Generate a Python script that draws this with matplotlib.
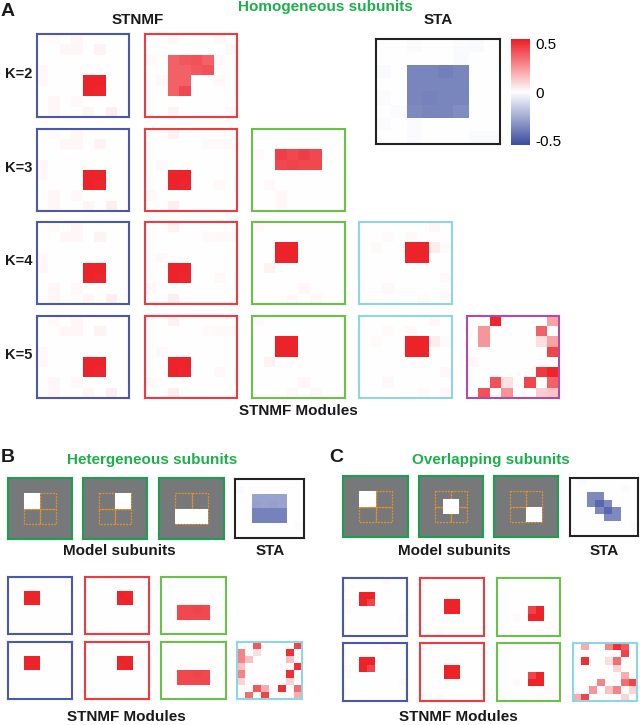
import numpy as np
import matplotlib.pyplot as plt
from matplotlib.colors import LinearSegmentedColormap, ListedColormap
from matplotlib.patches import Rectangle

# ---- data: (row, col, value) entries on an 8x8 grid ----
# panel A, homogeneous subunits
a_blue = [(4,4,.53),(4,5,.53),(5,4,.53),(5,5,.52),
          (0,1,.01),(0,3,.02),(1,2,.02),(1,3,.02),(1,5,.03),(3,0,.015),(4,0,.015),
          (6,1,.02),(7,1,.02),(6,3,.015),(7,4,.025),(7,6,.035)]
a_red2 = [(2,2,.38),(2,3,.40),(2,4,.42),(2,5,.38),(3,2,.38),(3,3,.38),(3,4,.40),
          (3,5,.42),(4,2,.38),(4,3,.38),(5,2,.38),(5,3,.44),
          (0,2,.015),(0,6,.015),(1,7,.015),(2,0,.01),(4,1,.015),(4,6,.015),(7,2,.03),
          (7,7,.015),(2,6,.015)]
a_red = [(4,2,.53),(4,3,.53),(5,2,.53),(5,3,.52),
         (0,2,.03),(1,5,.01),(1,6,.015),(1,7,.01),(3,1,.015),(5,6,.015),(7,2,.035),(6,0,.015)]
a_green3 = [(2,2,.46),(2,3,.44),(2,4,.46),(2,5,.44),(3,2,.44),(3,3,.45),(3,4,.44),(3,5,.44),
            (2,0,.01),(5,1,.015),(6,2,.015),(7,2,.015)]
a_green = [(2,2,.53),(2,3,.53),(3,2,.53),(3,3,.53),
           (0,0,.01),(4,1,.03),(6,4,.02),(7,3,.015),(7,5,.015)]
a_cyan = [(2,4,.53),(2,5,.53),(3,4,.53),(3,5,.53),
          (0,6,.02),(1,2,.01),(1,4,.015),(2,1,.01),(2,6,.04),(2,7,.01),(5,7,.015),
          (6,2,.015),(7,5,.01),(7,7,.015)]
a_magenta = [(0,2,.52),(1,1,.25),(2,1,.25),(0,7,.22),(1,6,.38),(2,6,.08),(2,7,.22),
             (3,7,.45),(4,0,.02),(5,6,.48),(5,7,.52),(6,2,.42),(6,3,.07),(6,5,.45),
             (6,7,.38),(7,1,.42),(7,3,.26),(7,6,.12),(7,7,.14)]
a_sta = [(2,2,-.37),(2,3,-.37),(2,4,-.39),(2,5,-.37),(3,2,-.37),(3,3,-.37),(3,4,-.37),
         (3,5,-.37),(4,2,-.37),(4,3,-.38),(4,4,-.37),(4,5,-.37),(5,2,-.36),(5,3,-.37),
         (5,4,-.37),(5,5,-.35),
         (0,2,-.01),(0,5,-.01),(0,6,-.015),(1,5,-.015),(2,0,-.015),(4,0,-.01),(5,1,-.01),
         (6,0,-.01),(6,2,-.01),(7,2,-.01),(7,6,-.015),(7,7,-.015)]

# panel B, heterogeneous subunits
b_subunits = [(2,2,2,2),(2,4,2,2),(4,2,2,4)]   # row, col, height, width
b_sta = [(2,2,-.28),(2,3,-.28),(2,4,-.28),(2,5,-.28),(3,2,-.29),(3,3,-.28),(3,4,-.29),(3,5,-.28),
         (4,2,-.38),(4,3,-.38),(4,4,-.38),(4,5,-.38),(5,2,-.38),(5,3,-.38),(5,4,-.38),(5,5,-.38),
         (1,0,-.01),(6,7,-.01)]
b_blue = [(2,2,.53),(2,3,.53),(3,2,.53),(3,3,.53),(0,7,.01)]
b_red = [(2,4,.53),(2,5,.52),(3,4,.52),(3,5,.53)]
b_green = [(4,2,.44),(4,3,.44),(4,4,.45),(4,5,.44),(5,2,.44),(5,3,.44),(5,4,.44),(5,5,.44)]
b_cyan = [(0,2,.40),(1,2,.08),(1,0,.30),(2,0,.30),(2,1,.15),(0,7,.45),(1,6,.50),(2,6,.15),
          (3,7,.50),(3,0,.15),(4,0,.30),(5,0,.10),(4,6,.50),(5,6,.10),(6,2,.40),(6,3,.20),
          (6,5,.50),(6,7,.35),(7,1,.35),(7,3,.45),(7,7,.20)]

# panel C, overlapping subunits
c_subunits = [(2,2,2,2),(3,3,2,2),(4,4,2,2)]
c_sta = [(2,2,-.36),(2,3,-.36),(3,2,-.36),(3,3,-.46),(3,4,-.36),(4,3,-.36),(4,4,-.46),
         (4,5,-.36),(5,4,-.36),(5,5,-.36),(0,1,-.01),(1,6,-.01),(6,7,-.01)]
c_blue = [(2,2,.53),(2,3,.53),(3,2,.53),(3,3,.45),(0,5,.015),(3,0,.015),(4,0,.01),(5,7,.01)]
c_red = [(3,3,.53),(3,4,.53),(4,3,.53),(4,4,.53),(7,2,.01)]
c_green = [(4,4,.45),(4,5,.53),(5,4,.53),(5,5,.53),(5,2,.01),(6,6,.01),(7,5,.01)]
c_cyan = [(0,1,.20),(0,4,.30),(0,5,.50),(0,6,.40),(1,6,.45),(2,1,.50),(2,4,.08),(2,5,.35),
          (3,5,.10),(4,6,.20),(5,3,.30),(5,6,.35),(5,7,.45),(6,2,.25),(6,4,.15),(6,5,.30),
          (6,7,.10),(7,0,.20),(7,1,.45),(7,6,.10)]

cbar_ticks = [-0.5, 0, 0.5]
cbar_labels = ['-0.5', '0', '0.5']

# ---- styles ----
W, H = 640, 725
cmap = LinearSegmentedColormap.from_list('bwr2', ['#3A4C9E', '#FFFFFF', '#ED1C24'])
VMAX = 0.55
blue_c, red_c, green_c, cyan_c, mag_c = '#4E58A8', '#EE3B43', '#6CC04A', '#8ED6E0', '#B24AA8'
title_green = '#1DAF4B'

fig = plt.figure(figsize=(W/100, H/100), dpi=100)


def grid(entries):
    m = np.zeros((8, 8))
    for r, c, v in entries:
        m[r, c] = v
    return m


def box_ax(x0, y0, x1, y1):
    # axes placed by pixel box (top-left origin)
    ax = fig.add_axes([x0/W, 1 - y1/H, (x1-x0)/W, (y1-y0)/H])
    ax.set_xticks([])
    ax.set_yticks([])
    return ax


def module(box, entries, color, lw=1.5):
    ax = box_ax(*box)
    ax.imshow(grid(entries), cmap=cmap, vmin=-VMAX, vmax=VMAX, aspect='auto',
              interpolation='nearest')
    for s in ax.spines.values():
        s.set_color(color)
        s.set_linewidth(lw)
    return ax


def model_subunit(box, subunits, k):
    ax = box_ax(*box)
    ax.imshow(np.zeros((8, 8)), cmap=ListedColormap(['#777879']), aspect='auto')
    # dashed outline of the 2x2 subunit layout
    for r in (2, 4):
        for c in (2, 4):
            ax.add_patch(Rectangle((c-0.5, r-0.5), 2, 2, fill=False, ec='#E8902A',
                                   lw=0.9, ls=(0, (1.5, 1)), zorder=2))
    r, c, h, w = subunits[k]
    ax.add_patch(Rectangle((c-0.5, r-0.5), w, h, fc='white', ec='none', zorder=3))
    for s in ax.spines.values():
        s.set_color('#1AA050')
        s.set_linewidth(1.5)


def txt(x, y, s, size=11, color='#1a1a1a', weight='bold', ha='center'):
    fig.text(x/W, 1 - y/H, s, fontsize=size, color=color, fontweight=weight,
             ha=ha, va='center', family='Liberation Sans')


# ---- panel A ----
cols_x = [(37,129),(145,237),(252,345),(359,452),(467,559)]
rows_y = [(34,117),(129,211),(222,304),(316,398)]
rows_mods = [
    [(a_blue, blue_c), (a_red2, red_c)],
    [(a_blue, blue_c), (a_red, red_c), (a_green3, green_c)],
    [(a_blue, blue_c), (a_red, red_c), (a_green, green_c), (a_cyan, cyan_c)],
    [(a_blue, blue_c), (a_red, red_c), (a_green, green_c), (a_cyan, cyan_c), (a_magenta, mag_c)],
]
for i, mods in enumerate(rows_mods):
    y0, y1 = rows_y[i]
    for j, (ent, col) in enumerate(mods):
        x0, x1 = cols_x[j]
        module((x0, y0, x1, y1), ent, col)
    txt(19, (y0+y1)/2 - 2, 'K=%d' % (i+2), size=10.5)

module((376, 39, 500, 144), a_sta, '#222222')
cax = box_ax(511, 39, 530, 145)
cb = fig.colorbar(plt.cm.ScalarMappable(cmap=cmap, norm=plt.Normalize(-VMAX, VMAX)), cax=cax)
cb.outline.set_visible(False)
cb.set_ticks(cbar_ticks)
cb.set_ticklabels(cbar_labels)
cax.tick_params(length=0, labelsize=11, pad=4)
for t in cax.get_yticklabels():
    t.set_family('Liberation Sans')

txt(8, 11, 'A', size=14)
txt(138, 20, 'STNMF')
txt(438, 20, 'STA')
txt(325, 7, 'Homogeneous subunits', color=title_green)
txt(298, 411, 'STNMF Modules')

# ---- panel B ----
b_model = [(8,478,72,539),(83,478,147,539),(159,478,224,539)]
for k, box in enumerate(b_model):
    model_subunit(box, b_subunits, k)
module((235, 479, 304, 538), b_sta, '#222222')
b_x = [(8,72),(85,149),(161,226),(237,302)]
for y0, y1, mods in [(577, 634, [(b_blue, blue_c), (b_red, red_c), (b_green, green_c)]),
                     (642, 699, [(b_blue, blue_c), (b_red, red_c), (b_green, green_c),
                                 (b_cyan, cyan_c)])]:
    for j, (ent, col) in enumerate(mods):
        module((b_x[j][0], y0, b_x[j][1], y1), ent, col)
txt(8, 458, 'B', size=14)
txt(152, 460, 'Hetergeneous subunits', color=title_green)
txt(119, 551, 'Model subunits')
txt(270, 551, 'STA')
txt(126, 717, 'STNMF Modules')

# ---- panel C ----
c_model = [(343,476,408,537),(419,476,483,537),(494,476,558,537)]
for k, box in enumerate(c_model):
    model_subunit(box, c_subunits, k)
module((570, 478, 638, 536), c_sta, '#222222')
c_x = [(343,407),(420,484),(497,560),(573,637)]
for y0, y1, mods in [(578, 636, [(c_blue, blue_c), (c_red, red_c), (c_green, green_c)]),
                     (643, 701, [(c_blue, blue_c), (c_red, red_c), (c_green, green_c),
                                 (c_cyan, cyan_c)])]:
    for j, (ent, col) in enumerate(mods):
        module((c_x[j][0], y0, c_x[j][1], y1), ent, col)
txt(336, 458, 'C', size=14)
txt(491, 460, 'Overlapping subunits', color=title_green)
txt(454, 551, 'Model subunits')
txt(604, 551, 'STA')
txt(458, 717, 'STNMF Modules')

fig.savefig('out.png', dpi=100)
